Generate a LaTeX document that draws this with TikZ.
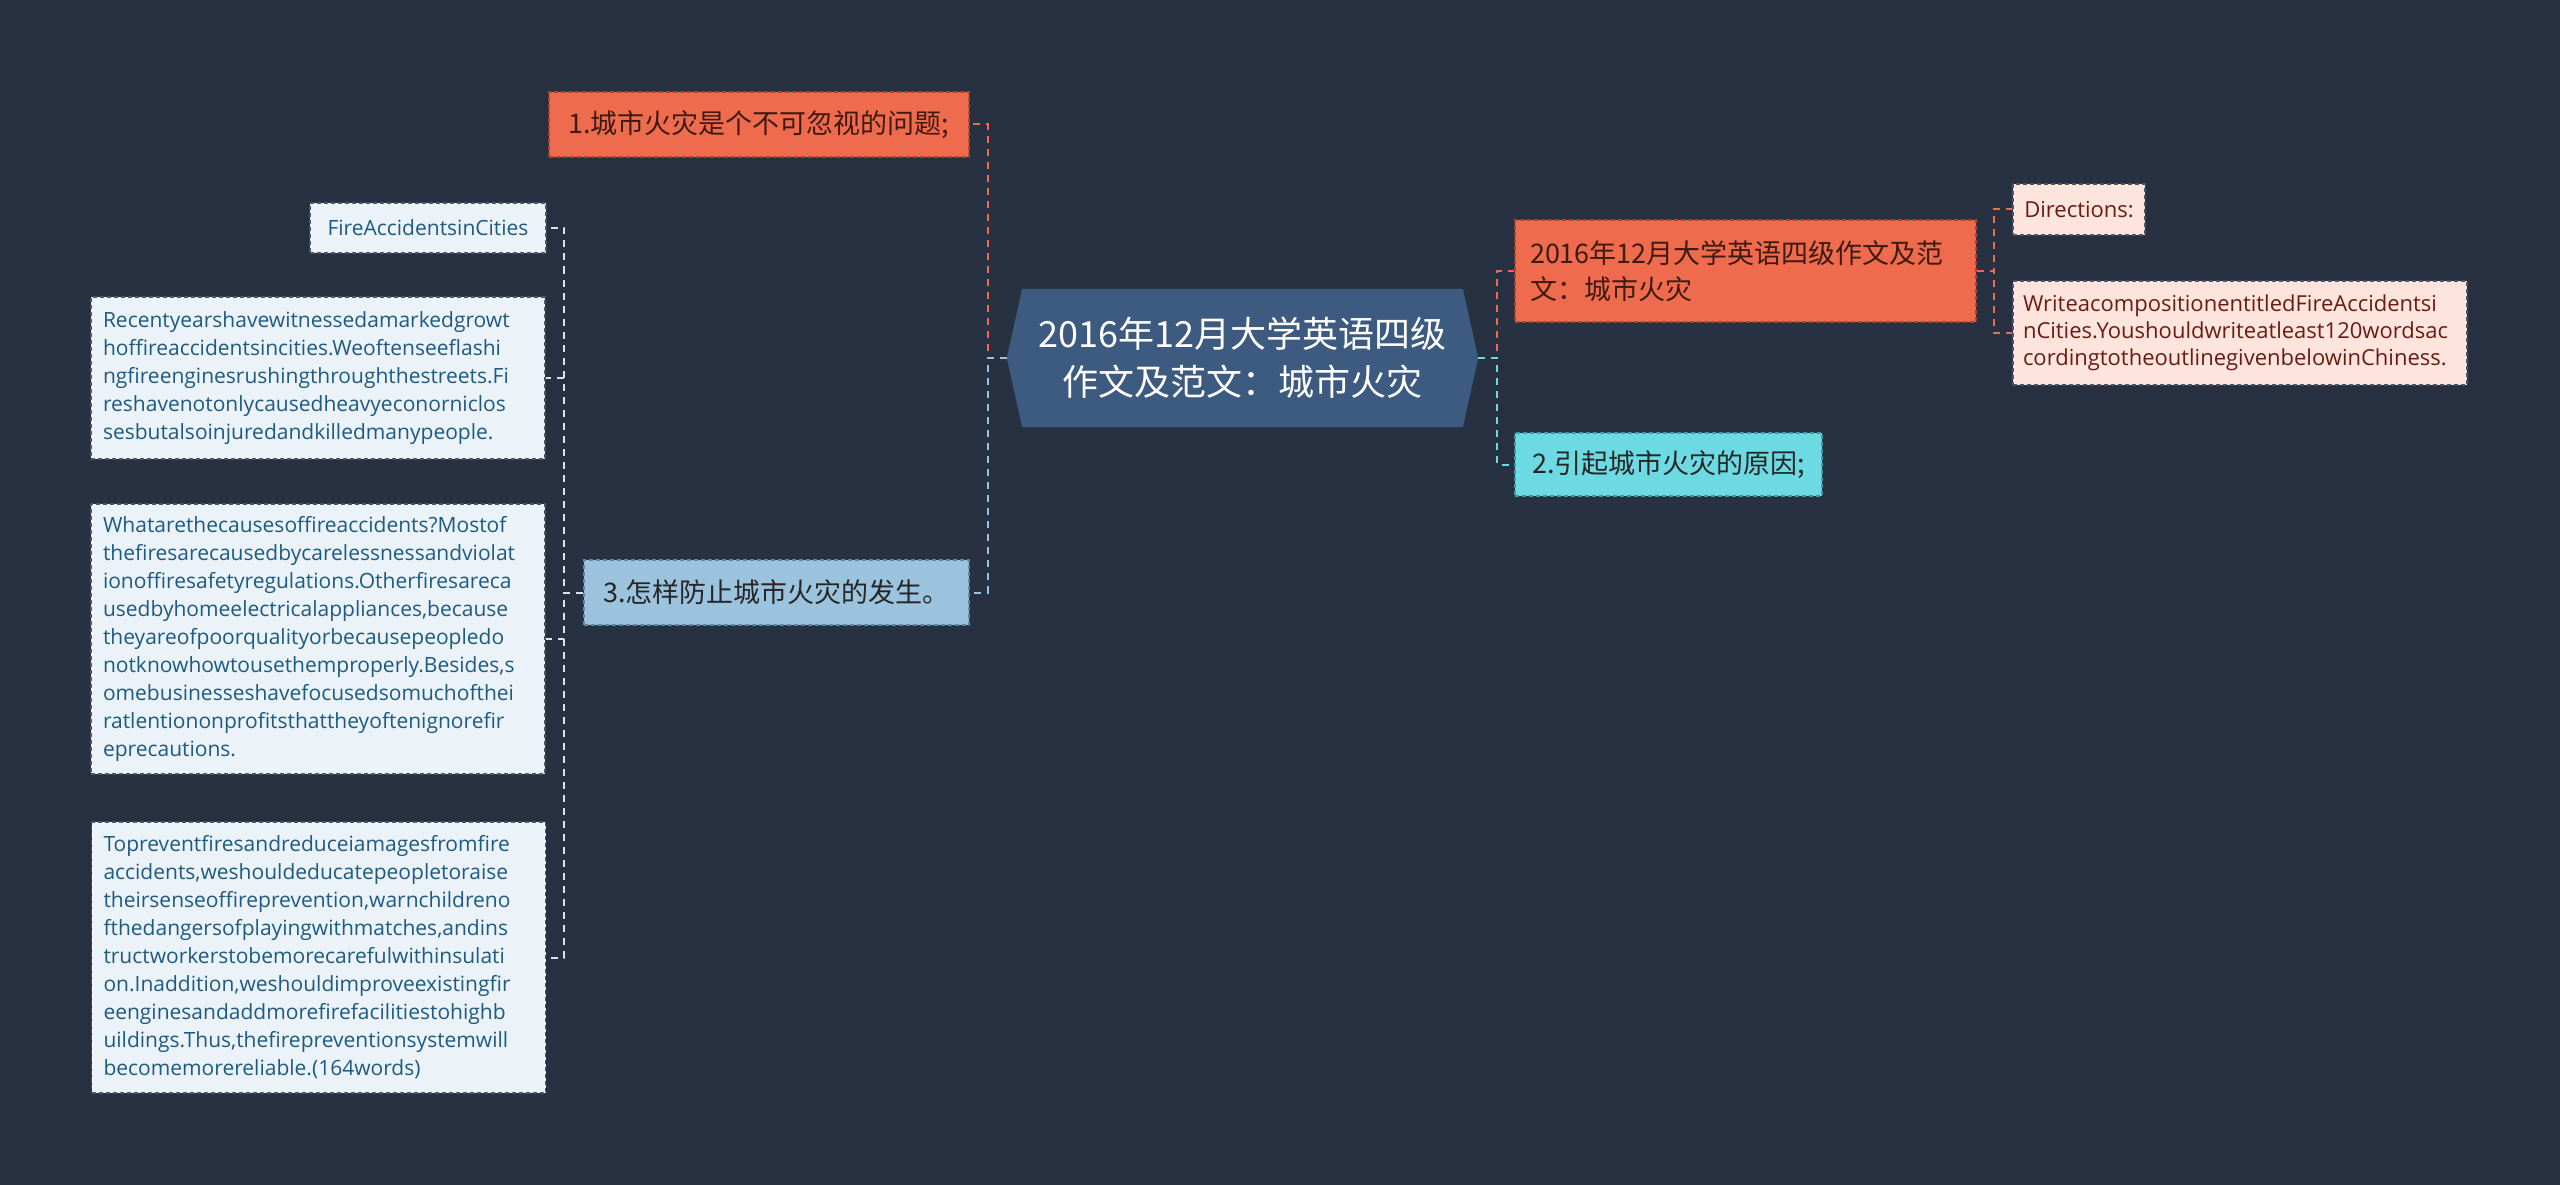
\documentclass[tikz,border=0pt]{standalone}
\usepackage{fontspec}
\setmainfont{Noto Sans CJK SC}
\newfontfamily\latinfont{Open Sans}
\usetikzlibrary{shapes.symbols}

\definecolor{bg}{HTML}{283142}
\definecolor{rootfill}{HTML}{3D5A80}
\definecolor{orangefill}{HTML}{EE6B4D}
\definecolor{orangeedge}{HTML}{A9452E}
\definecolor{orangetext}{HTML}{3E1A12}
\definecolor{bluefill}{HTML}{9CC3DD}
\definecolor{blueedge}{HTML}{5F87A3}
\definecolor{cyanfill}{HTML}{6DD9E2}
\definecolor{cyanedge}{HTML}{3A9DA6}
\definecolor{parafill}{HTML}{EBF3F8}
\definecolor{paratext}{HTML}{1E5A82}
\definecolor{pinkfill}{HTML}{FDE4DC}
\definecolor{pinktext}{HTML}{6B1C12}
\definecolor{greyedge}{HTML}{4E5666}

\tikzset{
  box/.style={draw, dash pattern=on 4pt off 3pt, line width=1.5pt,
    inner xsep=12pt, inner ysep=0pt, align=left},
  rootbox/.style={shape=signal, signal to=east and west, signal pointer angle=155,
    fill=rootfill, draw=rootfill, minimum width=471pt, minimum height=138pt,
    inner sep=0pt, text=white, align=center, font=\fontsize{36}{48}\selectfont},
  topic/.style={box, font=\fontsize{27}{36}\selectfont},
  orangebox/.style={topic, fill=orangefill, draw=orangeedge, text=orangetext},
  bluebox/.style={topic, fill=bluefill, draw=blueedge, text=black!85},
  cyanbox/.style={topic, fill=cyanfill, draw=cyanedge, text=black!85},
  parabox/.style={box, fill=parafill, draw=greyedge, text=paratext,
    font=\latinfont\fontsize{21}{28}\selectfont},
  pinkbox/.style={box, fill=pinkfill, draw=greyedge, text=pinktext,
    font=\latinfont\fontsize{22}{27}\selectfont},
  link/.style={line width=2pt, dash pattern=on 7pt off 6pt},
  orangelink/.style={link, draw=orangefill},
  bluelink/.style={link, draw=bluefill},
  cyanlink/.style={link, draw=cyanfill},
  paralink/.style={link, draw=parafill!70!bluefill}
}

\begin{document}
\begin{tikzpicture}[x=1pt, y=-1pt]
    \fill[bg] (0,0) rectangle (2560,1185);
    \useasboundingbox (0,0) rectangle (2560,1185);

    \node[rootbox] (root) at (1242.5,358) {2016年12月大学英语四级\\作文及范文：城市火灾};

    \node[orangebox, minimum width=420pt, minimum height=65pt] (n1) at (759,124.5) {1.城市火灾是个不可忽视的问题;};
    \node[bluebox, minimum width=385pt, minimum height=65pt] (n3) at (776.5,592.5) {3.怎样防止城市火灾的发生。};
    \node[orangebox, inner xsep=15pt, text width=431pt, minimum height=102pt] (n0) at (1745.5,271) {2016年12月大学英语四级作文及范\\文：城市火灾};
    \node[cyanbox, minimum width=307pt, minimum height=63pt] (n2) at (1668.5,464.5) {2.引起城市火灾的原因;};

    \node[pinkbox, inner xsep=8pt, minimum width=132pt, minimum height=51pt] (dir) at (2079,209.5) {Directions:};
    \node[pinkbox, inner xsep=10pt, text width=434pt, minimum height=104pt] (write) at (2240,333) {WriteacompositionentitledFireAccidentsi\\nCities.Youshouldwriteatleast120wordsac\\cordingtotheoutlinegivenbelowinChiness.};

    \node[parabox, minimum width=236pt, minimum height=50pt] (title) at (428,228) {FireAccidentsinCities};
    \node[parabox, text width=430pt, minimum height=162pt] (p1) at (318,378) {Recentyearshavewitnessedamarkedgrowt\\hoffireaccidentsincities.Weoftenseeflashi\\ngfireenginesrushingthroughthestreets.Fi\\reshavenotonlycausedheavyeconorniclos\\sesbutalsoinjuredandkilledmanypeople.};
    \node[parabox, text width=430pt, minimum height=270pt] (p2) at (318,639) {Whatarethecausesoffireaccidents?Mostof\\thefiresarecausedbycarelessnessandviolat\\ionoffiresafetyregulations.Otherfiresareca\\usedbyhomeelectricalappliances,because\\theyareofpoorqualityorbecausepeopledo\\notknowhowtousethemproperly.Besides,s\\omebusinesseshavefocusedsomuchofthei\\ratlentiononprofitsthattheyoftenignorefir\\eprecautions.};
    \node[parabox, text width=430pt, minimum height=271pt] (p3) at (318.5,957.5) {Topreventfiresandreduceiamagesfromfire\\accidents,weshouldeducatepeopletoraise\\theirsenseoffireprevention,warnchildreno\\fthedangersofplayingwithmatches,andins\\tructworkerstobemorecarefulwithinsulati\\on.Inaddition,weshouldimproveexistingfir\\eenginesandaddmorefirefacilitiestohighb\\uildings.Thus,thefirepreventionsystemwill\\becomemorereliable.(164words)};

    \draw[orangelink] (root.west) -- ++(-19,0) |- (n1.east);
    \draw[bluelink] (root.west) -- ++(-19,0) |- (n3.east);
    \draw[orangelink] (root.east) -- ++(19,0) |- (n0.west);
    \draw[cyanlink] (root.east) -- ++(19,0) |- (n2.west);
    \draw[orangelink] (n0.east) -- ++(17,0) |- (dir.west);
    \draw[orangelink] (n0.east) -- ++(17,0) |- (write.west);
    \draw[paralink] (n3.west) -- ++(-19,0) |- (title.east);
    \draw[paralink] (n3.west) -- ++(-19,0) |- (p1.east);
    \draw[paralink] (n3.west) -- ++(-19,0) |- (p2.east);
    \draw[paralink] (n3.west) -- ++(-19,0) |- (p3.east);
\end{tikzpicture}
\end{document}
